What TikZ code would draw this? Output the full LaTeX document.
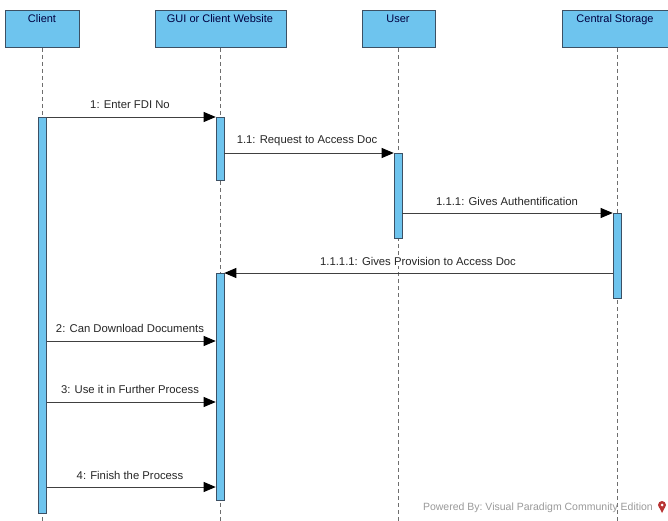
\documentclass[tikz,border=0pt]{standalone}
\usepackage{fontspec}
\setmainfont{Liberation Sans}
\usetikzlibrary{arrows.meta}
\definecolor{boxblue}{RGB}{110,196,238}
\definecolor{boxedge}{RGB}{60,80,100}
\definecolor{lifegray}{RGB}{110,110,110}
\tikzset{
  head/.style={draw=boxedge, line width=1pt, fill=boxblue, anchor=north west, inner sep=0pt},
  headtxt/.style={font=\fontsize{11}{12}\selectfont, text=black!75!blue, anchor=base, inner sep=0pt},
  bar/.style={draw=boxedge, line width=0.6pt, fill=boxblue, minimum width=8pt, inner sep=0pt, anchor=north},
  life/.style={draw=lifegray, dashed, dash pattern=on 4pt off 3pt, line width=0.7pt},
  msg/.style={draw=black!75, line width=0.8pt, -{Triangle[length=12pt,width=10pt,fill=black,color=black]}},
  lbl/.style={font=\fontsize{11.3}{12}\selectfont, text=black!85, inner sep=1pt, fill=white}
}
\begin{document}
\begin{tikzpicture}[x=1pt,y=-1pt]
\useasboundingbox (0,0) rectangle (668,521);
% heads
\node[head, minimum width=74pt, minimum height=37pt] (client) at (5,10) {};
\node[head, minimum width=131pt, minimum height=37pt] (gui) at (155,10) {};
\node[head, minimum width=73pt, minimum height=37pt] (user) at (362,10) {};
\node[head, minimum width=106pt, minimum height=37pt] (cs) at (562,10) {};
\node[headtxt] at (42,23) {Client};
\node[headtxt] at (220,23) {GUI or Client Website};
\node[headtxt] at (398,23) {User};
\node[headtxt] at (615,23) {Central Storage};
% lifelines
\coordinate (cend) at (42.5,521);
\coordinate (gend) at (220,521);
\coordinate (uend) at (398,521);
\coordinate (send) at (617,521);
\draw[life] (client.south -| cend) -- (cend);
\draw[life] (gui.south -| gend) -- (gend);
\draw[life] (user.south -| uend) -- (uend);
\draw[life] (cs.south -| send) -- (send);
% activation bars
\node[bar, minimum height=396pt] (cbar) at (42.5,117) {};
\node[bar, minimum height=63pt] (gbar1) at (220,117) {};
\node[bar, minimum height=85pt] (ubar) at (398,153) {};
\node[bar, minimum height=85pt] (sbar) at (617,213) {};
\node[bar, minimum height=227pt] (gbar2) at (220,273) {};
% messages
\draw[msg] (cbar.north east) -- (gbar1.north west);
\node[lbl] at (130,105) {1: Enter FDI No};
\draw[msg] (gbar1.east |- ubar.north) -- (ubar.north west);
\node[lbl] at (307,141) {1.1: Request to Access Doc};
\draw[msg] (ubar.east |- sbar.north) -- (sbar.north west);
\node[lbl] at (507,201) {1.1.1: Gives Authentification};
\draw[msg] (sbar.west |- gbar2.north) -- (gbar2.north east);
\node[lbl] at (418,261) {1.1.1.1: Gives Provision to Access Doc};
\coordinate (m2) at (0,341);
\coordinate (m3) at (0,402);
\coordinate (m4) at (0,487);
\draw[msg] (cbar.east |- m2) -- (gbar2.west |- m2);
\node[lbl] at (130,328) {2: Can Download Documents};
\draw[msg] (cbar.east |- m3) -- (gbar2.west |- m3);
\node[lbl] at (130,389) {3: Use it in Further Process};
\draw[msg] (cbar.east |- m4) -- (gbar2.west |- m4);
\node[lbl] at (130,475) {4: Finish the Process};
% watermark
\node[font=\fontsize{10.5}{11}\selectfont, text=black!40, anchor=east, inner sep=0pt] (wm) at (653,508) {Powered By:\ Visual Paradigm Community Edition};
\fill[red!65!black!80] (662,505) circle (4pt);
\fill[red!65!black!80] (659,507) -- (665,507) -- (662,513) -- cycle;
\fill[white] (662,505) circle (1.5pt);
\end{tikzpicture}
\end{document}
